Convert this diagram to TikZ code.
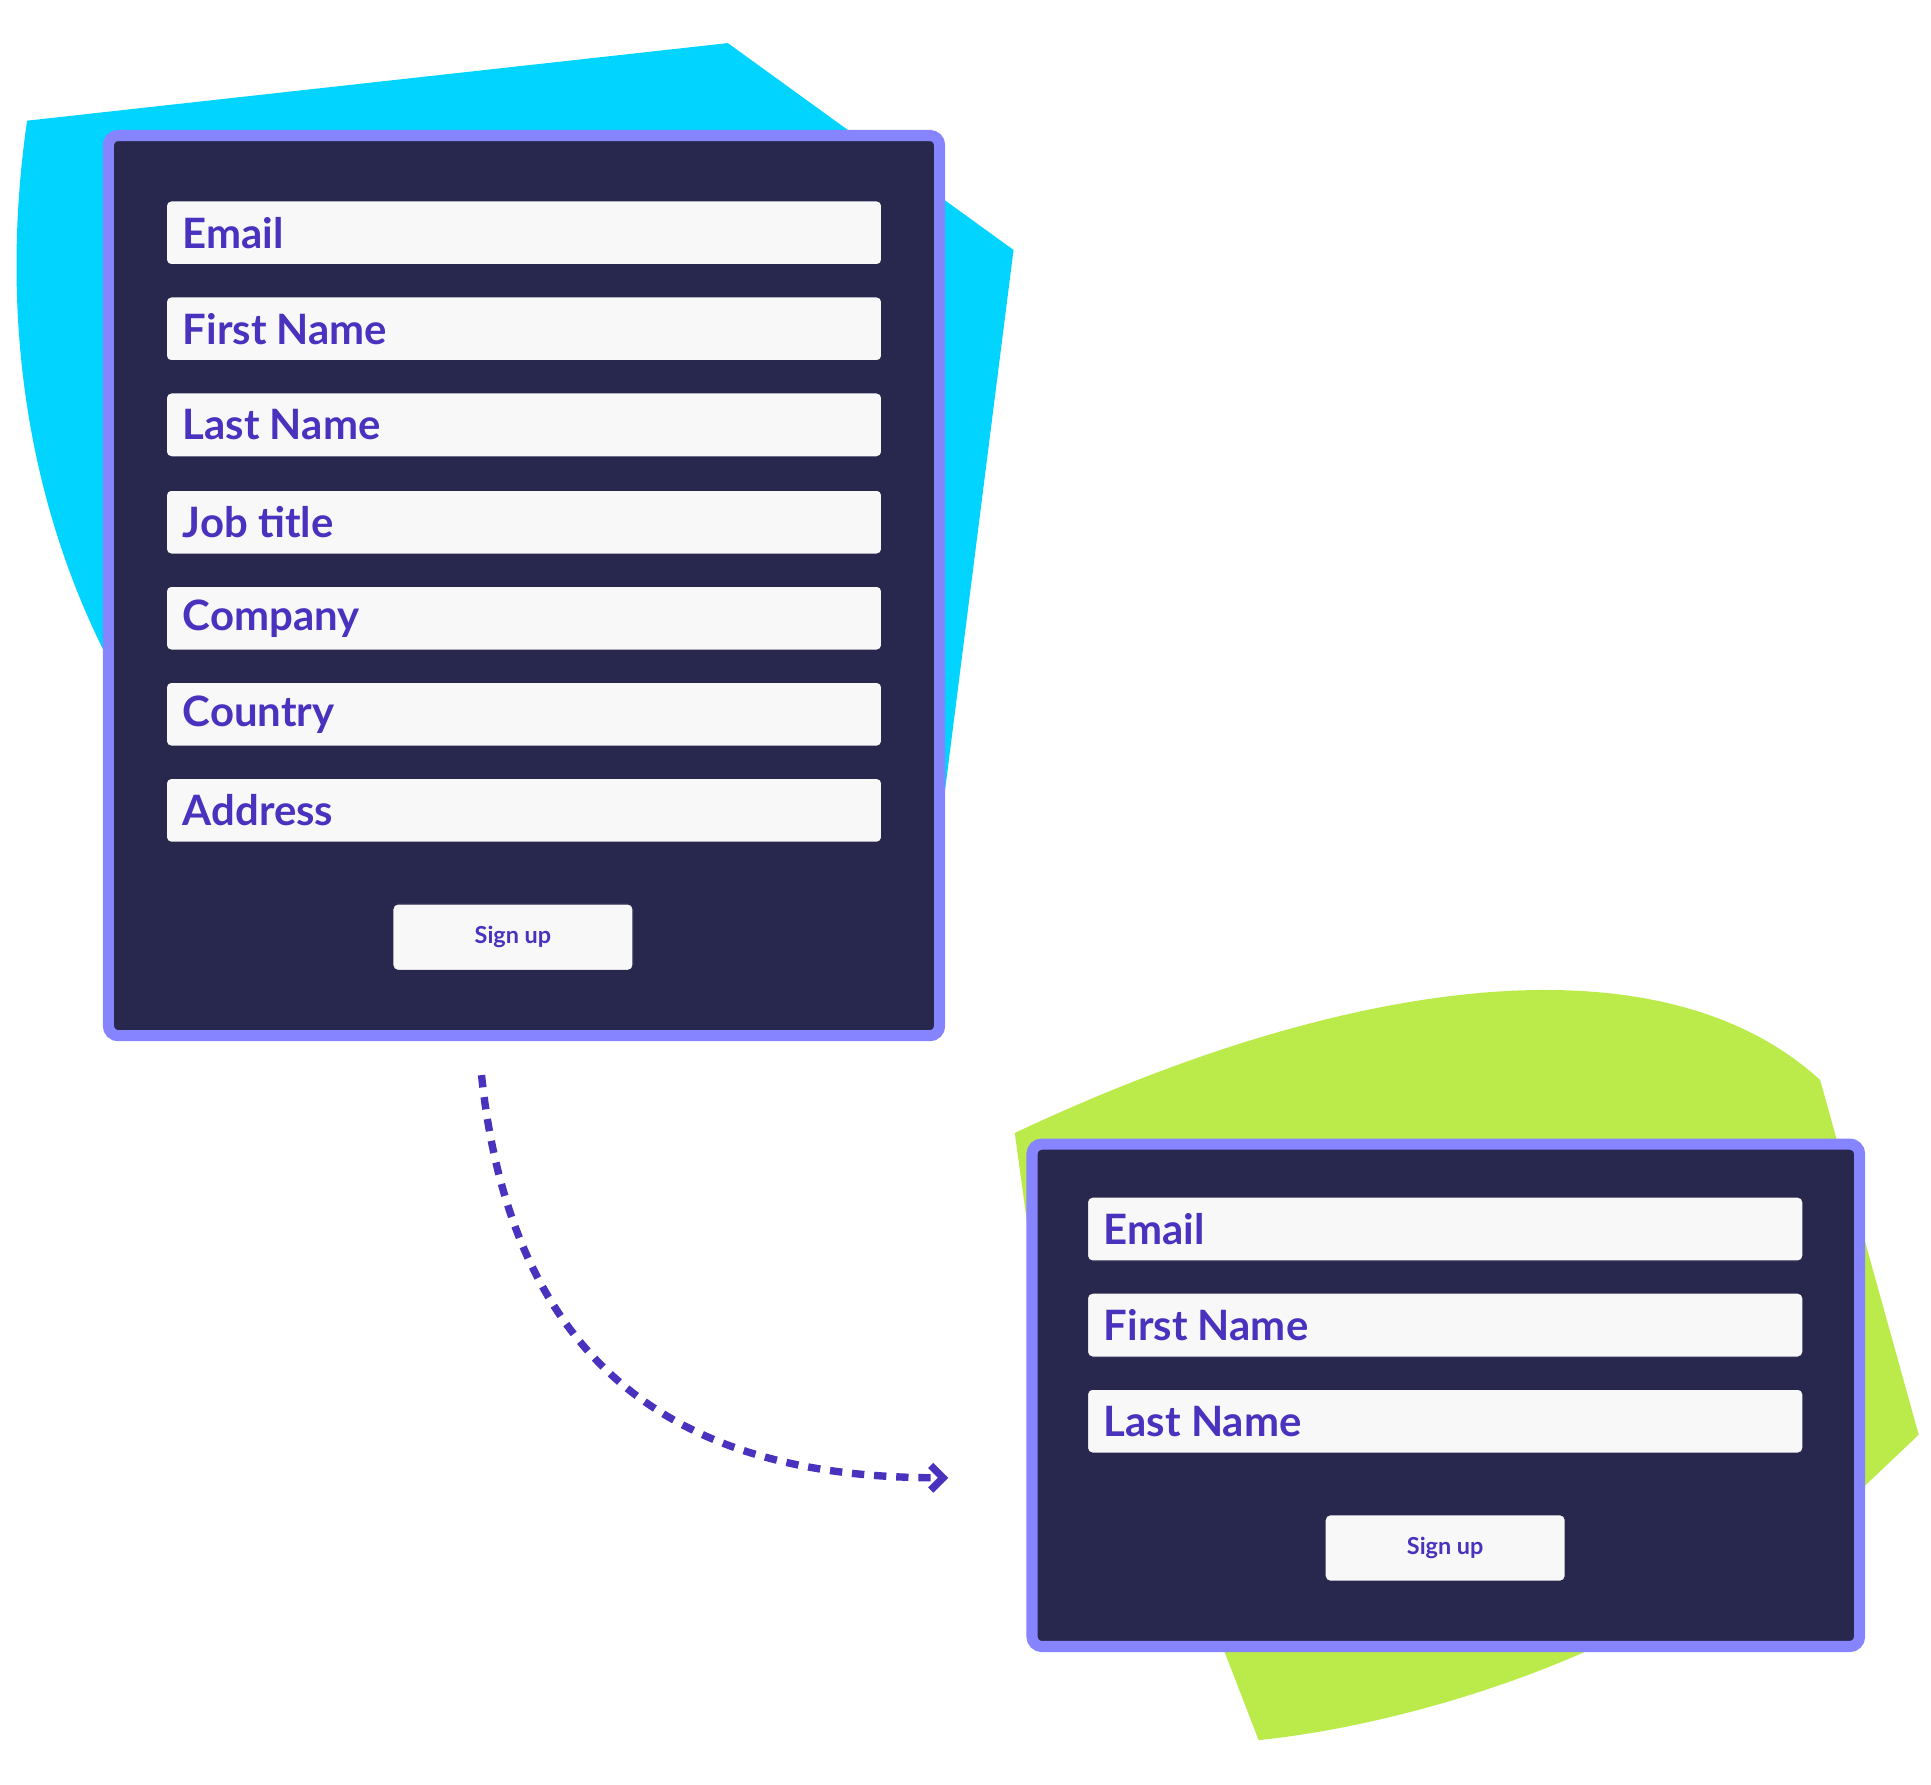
\documentclass[tikz,border=0pt]{standalone}
\usepackage{fontspec}
\setmainfont{Lato}
\usetikzlibrary{arrows.meta}
\definecolor{cyanbg}{HTML}{00D4FF}
\definecolor{limebg}{HTML}{BBEB4A}
\definecolor{panel}{HTML}{28284F}
\definecolor{frame}{HTML}{8685FF}
\definecolor{field}{HTML}{F8F8F8}
\definecolor{ink}{HTML}{4A32BE}
\tikzset{
  panelbox/.style={fill=panel,draw=frame,line width=4.5pt,rounded corners=4pt},
  fieldbox/.style={fill=field,draw=panel,line width=0.5pt,rounded corners=2pt},
  fieldtext/.style={anchor=west,text=ink,font=\fontsize{17}{20}\selectfont\bfseries,inner sep=0pt},
  btntext/.style={text=ink,font=\fontsize{9.5}{11}\selectfont\bfseries,inner sep=0pt},
}
\begin{document}
\begin{tikzpicture}[x=0.5pt,y=-0.5pt]
\useasboundingbox (0,0) rectangle (1568,1449);
% backgrounds
\fill[cyanbg] (22,98) -- (591,35) -- (823,203) -- (760,700) -- (300,700) -- (85,530)
  .. controls (20,400) and (0,250) .. (22,98) -- cycle;
\fill[limebg] (824,920) .. controls (1100,790) and (1350,760) .. (1478,877) -- (1558,1165)
  -- (1500,1220) -- (1290,1340) .. controls (1200,1380) and (1100,1405) .. (1022,1413)
  -- (990,1330) -- (835,1000) -- cycle;
% form 1
\draw[panelbox] (88,110) rectangle (763,841);
\foreach \t/\y [count=\i] in {Email/163,First Name/241,Last Name/319,Job title/398,Company/476,Country/554,Address/632}{
  \draw[fieldbox] (135,\y) rectangle (716,\y+52);
  \node[fieldtext] (fa\i) at (148,\y+26) {\t};
}
\draw[fieldbox] (319,734) rectangle (514,788);
\node[btntext] (btna) at (416.5,761) {Sign up};
% form 2
\draw[panelbox] (838,929) rectangle (1510,1337);
\foreach \t/\y [count=\i] in {Email/972,First Name/1050,Last Name/1128}{
  \draw[fieldbox] (883,\y) rectangle (1464,\y+52);
  \node[fieldtext] (fb\i) at (896,\y+26) {\t};
}
\draw[fieldbox] (1076,1230) rectangle (1271,1284);
\node[btntext] (btnb) at (1173.5,1257) {Sign up};
% arrow
\coordinate (s) at (391,873);
\coordinate (e) at (770,1200);
\draw[ink,line width=3pt,dash pattern=on 5pt off 4pt,
  -{Straight Barb[length=5pt,width=10pt,line width=3pt]}]
  (s) .. controls (420,1150) and (600,1200) .. (e);
\end{tikzpicture}
\end{document}
